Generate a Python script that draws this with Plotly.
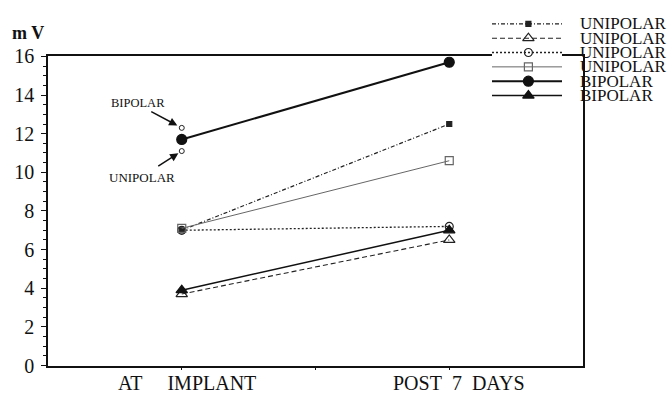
import plotly.graph_objects as go

# ---- data ----
timepoints = [1, 2]
time_labels = ["AT\u00a0\u00a0\u00a0\u00a0\u00a0IMPLANT", "POST\u00a0\u00a07\u00a0\u00a0DAYS"]
series_names = ["UNIPOLAR", "UNIPOLAR", "UNIPOLAR", "UNIPOLAR", "BIPOLAR", "BIPOLAR"]
uni_filled_sq = [7.0, 12.5]
uni_open_tri = [3.7, 6.5]
uni_open_circ = [7.0, 7.2]
uni_open_sq = [7.1, 10.6]
bi_filled_circ = [11.7, 15.7]
bi_filled_tri = [3.9, 7.0]
note_bipolar = 12.3
note_unipolar = 11.1

series_values = [uni_filled_sq, uni_open_tri, uni_open_circ, uni_open_sq, bi_filled_circ, bi_filled_tri]
styles = [
    dict(dash="4px,2px,1px,2px", width=1.2, color="#222", symbol="square", msize=5),
    dict(dash="5px,3px", width=1.1, color="#222", symbol="triangle-up-open", msize=10),
    dict(dash="2px,2px", width=1.3, color="#222", symbol="circle-open", msize=8),
    dict(dash="solid", width=1, color="#666", symbol="square-open", msize=8),
    dict(dash="solid", width=2, color="#111", symbol="circle", msize=10),
    dict(dash="solid", width=1.5, color="#111", symbol="triangle-up", msize=10),
]

W, H = 671, 403


def px(sx):
    return sx / W


def py(sy):
    return (H - sy) / H


L, R, T, B = 48, 583, 48, 375
font = "Liberation Serif"

fig = go.Figure()
for name, vals, st in zip(series_names, series_values, styles):
    fig.add_trace(go.Scatter(
        x=timepoints, y=vals, mode="lines+markers", name=name, showlegend=False,
        line=dict(color=st["color"], width=st["width"], dash=st["dash"]),
        marker=dict(symbol=st["symbol"], size=st["msize"], color=st["color"],
                    line=dict(color=st["color"], width=1.2)),
    ))

# small annotation markers near the bipolar point at implant
fig.add_trace(go.Scatter(
    x=[timepoints[0], timepoints[0]], y=[note_bipolar, note_unipolar], mode="markers",
    showlegend=False,
    marker=dict(symbol="circle-open", size=5, color="#222", line=dict(width=1)),
))

# custom legend on separate axes
for i, (name, st) in enumerate(zip(series_names, styles)):
    fig.add_trace(go.Scatter(
        x=[0, 1], y=[i, i], mode="lines", xaxis="x2", yaxis="y2", showlegend=False,
        line=dict(color=st["color"], width=st["width"], dash=st["dash"]),
    ))
    fig.add_trace(go.Scatter(
        x=[0.52], y=[i], mode="markers", xaxis="x2", yaxis="y2", showlegend=False,
        marker=dict(symbol=st["symbol"], size=st["msize"], color=st["color"],
                    line=dict(color=st["color"], width=1.2)),
    ))
    fig.add_annotation(text=name, x=px(578), xref="paper", xanchor="left",
                       y=i, yref="y2", yanchor="middle", showarrow=False,
                       font=dict(family=font, size=17, color="#111"))

# x category labels
for t, lab, dx in zip(timepoints, time_labels, [0.02, 0.038]):
    fig.add_annotation(text=lab, x=t + dx, xref="x", y=py(394), yref="paper",
                       yanchor="middle", showarrow=False,
                       font=dict(family=font, size=20, color="#111"))

# y label
fig.add_annotation(text="<b>m V</b>", x=px(10), xref="paper", xanchor="left",
                   y=py(23), yref="paper", yanchor="middle", showarrow=False,
                   font=dict(family=font, size=18, color="#111"))

# arrow notes
fig.add_annotation(text="BIPOLAR", x=timepoints[0], y=note_bipolar, xshift=-44, yshift=25,
                   showarrow=False, font=dict(family=font, size=12.5, color="#111"))
fig.add_annotation(text="UNIPOLAR", x=timepoints[0], y=note_unipolar, xshift=-40, yshift=-26,
                   showarrow=False, font=dict(family=font, size=13, color="#111"))
fig.add_annotation(text="", x=timepoints[0], y=note_bipolar, ax=-32, ay=-17,
                   showarrow=True, arrowhead=2, arrowsize=1.1, arrowwidth=1.5,
                   arrowcolor="#111", standoff=5)
fig.add_annotation(text="", x=timepoints[0], y=note_unipolar, ax=-25, ay=16,
                   showarrow=True, arrowhead=2, arrowsize=1.1, arrowwidth=1.5,
                   arrowcolor="#111", standoff=4)

fig.update_layout(
    width=W, height=H, margin=dict(l=0, r=0, t=0, b=0),
    plot_bgcolor="white", paper_bgcolor="white",
    xaxis=dict(domain=[px(L), px(R)], range=[0.5, 2.5], tickvals=[1, 1.5, 2],
               showticklabels=False, ticks="outside", ticklen=3, tickcolor="#111",
               showline=True, linecolor="#111", linewidth=1.6, mirror=True,
               showgrid=False, zeroline=False),
    yaxis=dict(domain=[py(B), py(T)], range=[0, 16], dtick=2,
               ticks="outside", ticklen=5, tickcolor="#111",
               minor=dict(dtick=0.5, ticks="outside", ticklen=3, tickcolor="#111"),
               showline=True, linecolor="#111", linewidth=1.6, mirror=True,
               showgrid=False, zeroline=False, ticklabelstandoff=3,
               tickfont=dict(family=font, size=20, color="#111")),
    xaxis2=dict(domain=[px(492), px(562)], range=[0, 1], visible=False, anchor="y2"),
    yaxis2=dict(domain=[py(97), py(6)], range=[5.5, -0.5], visible=False, anchor="x2"),
    shapes=[dict(type="rect", xref="paper", yref="paper", x0=px(488), x1=1, y0=py(98),
                 y1=1, fillcolor="white", line=dict(width=0), layer="below")],
)

# remove the default page margin so the figure fills the window exactly
fig.write_html(
    "out.html",
    config={"displayModeBar": False},
    post_script="document.documentElement.style.margin='0';document.body.style.margin='0';"
                "document.body.style.overflow='hidden';",
)
